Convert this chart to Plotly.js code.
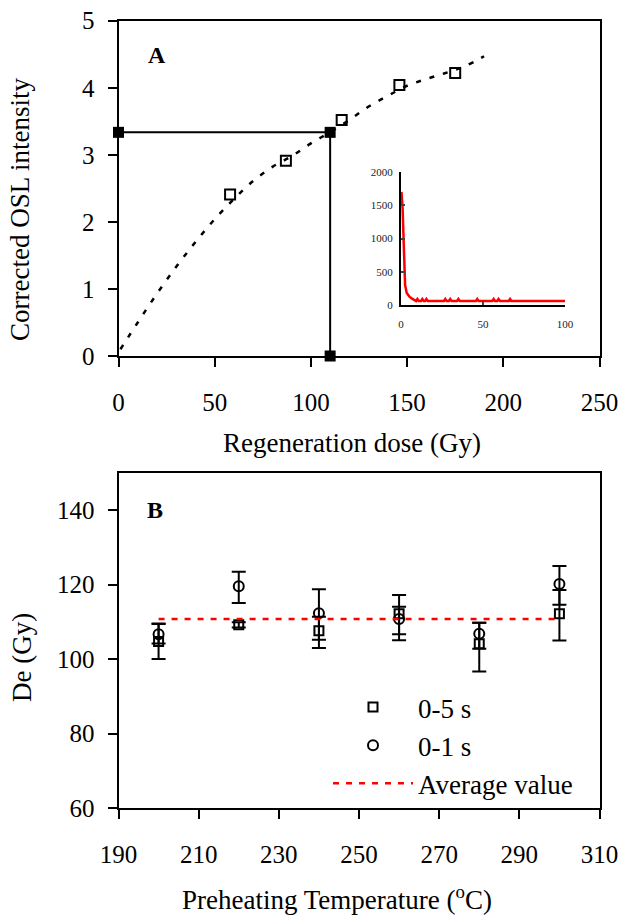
<!DOCTYPE html>
<html>
<head>
<meta charset="utf-8">
<script src="https://cdn.plot.ly/plotly-3.0.1.min.js"></script>
<style>html,body{margin:0;padding:0;background:#fff;}#chart{width:627px;height:915px;}</style>
</head>
<body>
<div id="chart"></div>
<script>
// ---- Panel A: dose-response ----
const fitDose = [1, 10, 20, 30, 40, 50, 60, 70, 80, 90, 100, 110, 120, 130, 140, 150, 160, 170, 180, 190];
const fitOSL  = [0.10, 0.50, 0.93, 1.33, 1.70, 2.04, 2.34, 2.61, 2.82, 2.98, 3.17, 3.34, 3.52, 3.72, 3.88, 4.03, 4.13, 4.22, 4.32, 4.47];
const regenDose = [58, 87, 116, 146, 175];
const regenOSL  = [2.41, 2.91, 3.52, 4.04, 4.22];
const naturalDose = [0, 110, 110];
const naturalOSL  = [3.335, 3.335, 0];
const doseTicks = [0, 50, 100, 150, 200, 250];
const oslTicks = [0, 1, 2, 3, 4, 5];

// ---- Inset: OSL decay curve ----
const decayTime = [0.3, 1, 1.5, 2, 2.5, 3.5, 5, 6.5, 8, 9.2, 10, 10.8, 12.2, 13, 13.8, 14.7, 15.5, 16.3, 26.2, 27, 27.8, 29.2, 30, 30.8, 34.2, 35, 35.8, 45.7, 46.5, 47.3, 55.7, 56.5, 57.3, 58.7, 59.5, 60.3, 65.7, 66.5, 67.3, 100];
const decayCounts = [1700, 1450, 1050, 600, 300, 180, 130, 100, 75, 60, 90, 60, 60, 90, 60, 60, 90, 60, 60, 90, 60, 60, 90, 60, 60, 90, 60, 60, 90, 60, 60, 90, 60, 60, 90, 60, 60, 90, 60, 60];
const decayTicksX = [0, 50, 100];
const decayTicksY = [0, 500, 1000, 1500, 2000];

// ---- Panel B: De vs preheat ----
const preheatT = [200, 220, 240, 260, 280, 300];
const de05 = [104.7, 109.2, 107.6, 112.2, 104.1, 112.2];
const de05Plus = [4.9, 0.7, 3.8, 5.0, 5.7, 6.4];
const de05Minus = [4.7, 0.7, 4.6, 5.5, 7.4, 7.2];
const de01 = [106.7, 119.6, 112.3, 110.8, 106.8, 120.2];
const de01Plus = [2.7, 3.9, 6.5, 3.3, 3.0, 4.8];
const de01Minus = [2.5, 4.5, 7.1, 5.7, 4.0, 5.6];
const avgT = [200, 300];
const avgDe = [110.8, 110.8];
const tempTicks = [190, 210, 230, 250, 270, 290, 310];
const deTicks = [60, 80, 100, 120, 140];

const FONT = 'Liberation Serif, Times New Roman, serif';
const W = 627, H = 915;
const xDom = [118.5 / W, 599.5 / W];
const yDomA = [(H - 356) / H, (H - 20.7) / H];
const yDomB = [(H - 808) / H, (H - 473) / H];

const traces = [
  { x: fitDose, y: fitOSL, type: 'scatter', mode: 'lines', xaxis: 'x', yaxis: 'y',
    line: { color: 'black', width: 2.5, dash: '5px,9px', shape: 'spline' }, showlegend: false, hoverinfo: 'skip' },
  { x: naturalDose, y: naturalOSL, type: 'scatter', mode: 'lines+markers', xaxis: 'x', yaxis: 'y',
    line: { color: 'black', width: 2 }, marker: { symbol: 'square', size: 11, color: 'black' },
    cliponaxis: false, showlegend: false },
  { x: regenDose, y: regenOSL, type: 'scatter', mode: 'markers', xaxis: 'x', yaxis: 'y',
    marker: { symbol: 'square-open', size: 10, color: 'black', line: { width: 2, color: 'black' } },
    showlegend: false },
  { x: decayTime, y: decayCounts, type: 'scatter', mode: 'lines', xaxis: 'x5', yaxis: 'y5',
    line: { color: 'red', width: 2.5 }, showlegend: false },
  { x: preheatT, y: de05, type: 'scatter', mode: 'markers', xaxis: 'x2', yaxis: 'y2', name: '0-5 s',
    marker: { symbol: 'square-open', size: 9, color: 'black', line: { width: 2, color: 'black' } },
    error_y: { type: 'data', symmetric: false, array: de05Plus, arrayminus: de05Minus, color: 'black', thickness: 2, width: 7 } },
  { x: preheatT, y: de01, type: 'scatter', mode: 'markers', xaxis: 'x2', yaxis: 'y2', name: '0-1 s',
    marker: { symbol: 'circle-open', size: 10, color: 'black', line: { width: 2, color: 'black' } },
    error_y: { type: 'data', symmetric: false, array: de01Plus, arrayminus: de01Minus, color: 'black', thickness: 2, width: 7 } },
  { x: avgT, y: avgDe, type: 'scatter', mode: 'lines', xaxis: 'x2', yaxis: 'y2', name: 'Average value',
    line: { color: 'red', width: 2.5, dash: '6px,7px' } }
];

const tickFont = { family: FONT, size: 25, color: 'black' };
function mainAxis(extra) {
  return Object.assign({
    showline: true, linecolor: 'black', linewidth: 2, mirror: true,
    ticks: 'outside', ticklen: 9, tickwidth: 2, tickcolor: 'black',
    showgrid: false, zeroline: false, tickfont: tickFont, tickmode: 'array'
  }, extra);
}
function crossAxis(extra) {
  return Object.assign({
    showline: false, ticks: 'inside', ticklen: 9, tickwidth: 2, tickcolor: 'black',
    showgrid: false, zeroline: false, showticklabels: false, tickmode: 'array'
  }, extra);
}

const layout = {
  width: W, height: H,
  margin: { l: 0, r: 0, t: 0, b: 0 },
  paper_bgcolor: 'white', plot_bgcolor: 'rgba(0,0,0,0)',
  font: { family: FONT, color: 'black' },
  xaxis: mainAxis({ domain: xDom, anchor: 'y', range: [0, 250], tickvals: doseTicks, ticklabelstandoff: 14 }),
  yaxis: mainAxis({ domain: yDomA, anchor: 'x', range: [0, 5], tickvals: oslTicks, ticklabelstandoff: 8 }),
  xaxis3: crossAxis({ overlaying: 'x', anchor: 'y', range: [0, 250], tickvals: doseTicks }),
  yaxis3: crossAxis({ overlaying: 'y', anchor: 'x', range: [0, 5], tickvals: oslTicks }),
  xaxis2: mainAxis({ domain: xDom, anchor: 'y2', range: [190, 310], tickvals: tempTicks, ticklabelstandoff: 14 }),
  yaxis2: mainAxis({ domain: yDomB, anchor: 'x2', range: [60, 150], tickvals: deTicks, ticklabelstandoff: 8 }),
  xaxis4: crossAxis({ overlaying: 'x2', anchor: 'y2', range: [190, 310], tickvals: tempTicks }),
  yaxis4: crossAxis({ overlaying: 'y2', anchor: 'x2', range: [60, 150], tickvals: deTicks }),
  xaxis5: {
    domain: [401 / W, 565 / W], anchor: 'y5', range: [0, 100], tickmode: 'array', tickvals: decayTicksX,
    showline: true, linecolor: 'black', linewidth: 2, ticks: 'inside', ticklen: 4, tickwidth: 2,
    showgrid: false, zeroline: false, tickfont: { family: FONT, size: 11, color: '#222' }, ticklabelstandoff: 8
  },
  yaxis5: {
    domain: [(H - 305) / H, (H - 172) / H], anchor: 'x5', range: [0, 2000], tickmode: 'array', tickvals: decayTicksY,
    showline: true, linecolor: 'black', linewidth: 2, ticks: 'inside', ticklen: 4, tickwidth: 2,
    showgrid: false, zeroline: false, tickfont: { family: FONT, size: 11, color: '#222' }, ticklabelstandoff: 4
  },
  showlegend: true,
  legend: {
    x: 328 / W, y: (H - 683) / H, xanchor: 'left', yanchor: 'top', xref: 'paper', yref: 'paper',
    bgcolor: 'rgba(0,0,0,0)', font: { family: FONT, size: 27, color: 'black' }, itemwidth: 80,
    tracegroupgap: 0
  },
  annotations: [
    { text: 'Regeneration dose (Gy)', xref: 'paper', yref: 'paper', x: 352 / W, y: (H - 443) / H,
      xanchor: 'center', yanchor: 'middle', showarrow: false, font: { family: FONT, size: 27 } },
    { text: 'Corrected OSL intensity', xref: 'paper', yref: 'paper', x: 20 / W, y: (H - 210) / H,
      xanchor: 'center', yanchor: 'middle', showarrow: false, textangle: -90, font: { family: FONT, size: 27 } },
    { text: 'Preheating Temperature (<sup>o</sup>C)', xref: 'paper', yref: 'paper', x: 337 / W, y: (H - 898) / H,
      xanchor: 'center', yanchor: 'middle', showarrow: false, font: { family: FONT, size: 27 } },
    { text: 'De (Gy)', xref: 'paper', yref: 'paper', x: 22 / W, y: (H - 658) / H,
      xanchor: 'center', yanchor: 'middle', showarrow: false, textangle: -90, font: { family: FONT, size: 27 } },
    { text: '<b>A</b>', xref: 'paper', yref: 'paper', x: 146 / W, y: (H - 55) / H,
      xanchor: 'left', yanchor: 'middle', showarrow: false, font: { family: FONT, size: 24 } },
    { text: '<b>B</b>', xref: 'paper', yref: 'paper', x: 145 / W, y: (H - 510) / H,
      xanchor: 'left', yanchor: 'middle', showarrow: false, font: { family: FONT, size: 24 } }
  ]
};

Plotly.newPlot('chart', traces, layout, { displayModeBar: false, staticPlot: true });
</script>
</body>
</html>
